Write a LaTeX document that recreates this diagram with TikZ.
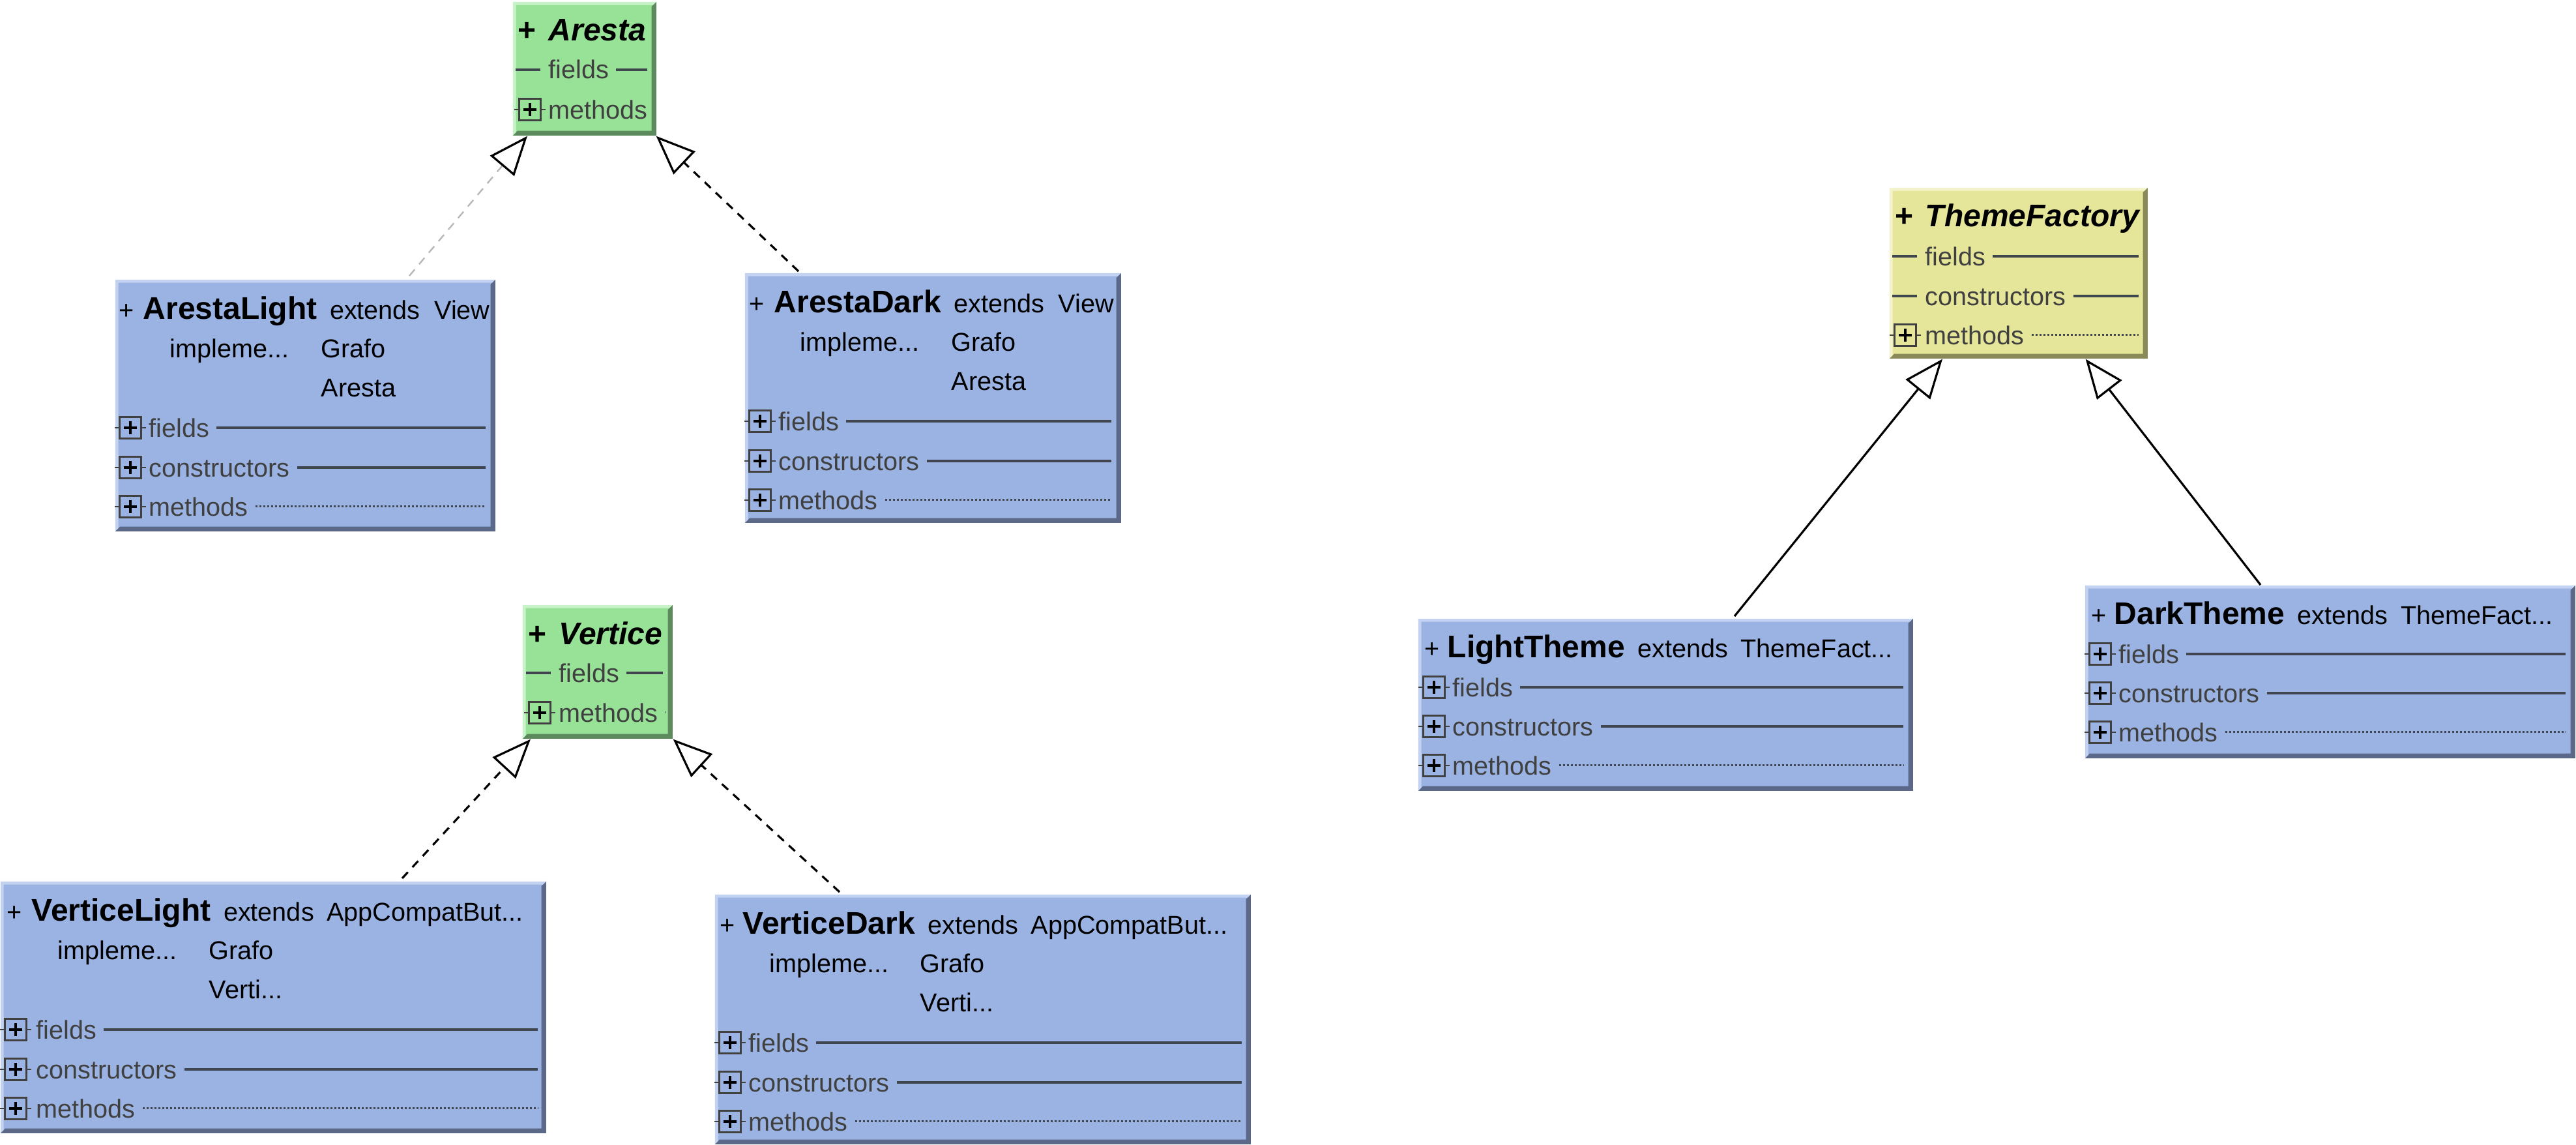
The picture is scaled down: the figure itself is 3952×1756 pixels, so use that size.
\documentclass[tikz,border=0pt]{standalone}
\usepackage{fontspec}
\setmainfont{Liberation Sans}
\usetikzlibrary{arrows.meta}
\definecolor{bfill}{HTML}{9AB3E3}
\definecolor{bdark}{HTML}{5B6888}
\definecolor{blight}{HTML}{C3D2F0}
\definecolor{gfill}{HTML}{98E298}
\definecolor{gdark}{HTML}{5C8A5C}
\definecolor{glight}{HTML}{C8F2C8}
\definecolor{yfill}{HTML}{E6E69A}
\definecolor{ydark}{HTML}{8A8A58}
\definecolor{ylight}{HTML}{F4F4CC}
\definecolor{sectxt}{HTML}{404040}
\definecolor{secrule}{HTML}{404650}
\definecolor{faint}{HTML}{B8B8B8}
\newcommand\ppb{path picture bounding box}
\tikzset{
  cbox/.style n args={3}{inner sep=0pt, fill=#1, path picture={
    \fill[#2] (\ppb.south west) -- (\ppb.south east) -- (\ppb.north east)
      -- ([shift={(-1.8pt,-1.8pt)}]\ppb.north east) -- ([shift={(-1.8pt,1.8pt)}]\ppb.south east)
      -- ([shift={(1.8pt,1.8pt)}]\ppb.south west) -- cycle;
    \fill[#3] (\ppb.south west) -- (\ppb.north west) -- (\ppb.north east)
      -- ([shift={(-1.2pt,-1.2pt)}]\ppb.north east) -- ([shift={(1.2pt,-1.2pt)}]\ppb.north west)
      -- ([shift={(1.2pt,1.2pt)}]\ppb.south west) -- cycle;
  }},
  bluebox/.style={cbox={bfill}{bdark}{blight}},
  greenbox/.style={cbox={gfill}{gdark}{glight}},
  yellowbox/.style={cbox={yfill}{ydark}{ylight}},
  txt/.style={inner sep=0pt, anchor=base west, font=\fontsize{9.9}{11}\selectfont},
  ttl/.style={inner sep=0pt, anchor=base west, font=\fontsize{12}{14}\selectfont\bfseries},
  ttli/.style={inner sep=0pt, anchor=base west, font=\fontsize{12}{14}\selectfont\bfseries\itshape},
  sec/.style={inner sep=0pt, anchor=base west, text=sectxt, font=\fontsize{9.9}{11}\selectfont},
  rule/.style={secrule, line width=0.9pt},
  drule/.style={secrule, line width=0.75pt, dash pattern=on 0.75pt off 0.75pt},
  norule/.style={draw=none},
  iconsq/.style={draw=sectxt, line width=0.8pt, minimum size=8.4pt, inner sep=0pt},
  dep/.style={line width=0.8pt, dash pattern=on 3.2pt off 2.6pt,
    -{Triangle[length=15pt, width=12pt, fill=white, color=black, line width=0.8pt]}},
  gen/.style={line width=0.8pt,
    -{Triangle[length=15pt, width=12pt, fill=white, color=black, line width=0.8pt]}},
}
\newcommand\classbox[6]{%
  \node[#6, anchor=north west, minimum width={(#4-#2)*0.25pt}, minimum height={(#5-#3)*0.25pt}] (#1) at (#2,#3) {};}
\newcommand\iconP[3]{%
  \node[iconsq] (#1) at (#2,#3) {};
  \draw[line width=0.8pt] ([xshift=-2.5pt]#1.center) -- ([xshift=2.5pt]#1.center)
    ([yshift=-2.5pt]#1.center) -- ([yshift=2.5pt]#1.center);
  \draw[sectxt, line width=0.5pt] ([xshift=-1.3pt]#1.west) -- (#1.west) (#1.east) -- ([xshift=1.3pt]#1.east);}
\newcommand\dashM[3]{\draw[rule] (#1,#3) -- (#2,#3);}
\newcommand\secL[6]{%
  \node[sec] (#1) at (#2,{#3+14}) {#4};
  \draw[#5] (#1.base east) ++(2.6pt,3.55pt) coordinate (#1-r) -- (#1-r -| #6,0);}
\begin{document}
\begin{tikzpicture}[x=0.25pt,y=-0.25pt]
\useasboundingbox (0,0) rectangle (3952,1756);
\fill[white] (0,0) rectangle (3952,1756);

% ---------- Aresta ----------
\classbox{aresta}{786}{2}{1006}{207}{greenbox}
\node[ttl] (ar-p) at (794,63) {+};
\node[ttli] (ar-n) at (841,63) {Aresta};
\dashM{791}{829}{107}
\secL{ar-f}{841}{107}{fields}{rule}{993}
\iconP{ar-mi}{813}{168}
\secL{ar-m}{841}{168}{methods}{norule}{993}

% ---------- ArestaLight ----------
\classbox{alight}{176}{428}{759}{814}{bluebox}
\node[txt] (al-p) at (182,489) {+};
\node[ttl] (al-n) at (219,489) {ArestaLight};
\node[txt] (al-e) at ([xshift=4.5pt]al-n.base east) {extends};
\node[txt] (al-s) at ([xshift=5pt]al-e.base east) {View};
\node[txt] (al-i) at (260,548) {impleme...};
\node[txt] (al-i1) at (492,548) {Grafo};
\node[txt] (al-i2) at (492,608) {Aresta};
\iconP{al-fi}{200}{656}
\secL{al-f}{228}{656}{fields}{rule}{745}
\iconP{al-ci}{200}{717}
\secL{al-c}{228}{717}{constructors}{rule}{745}
\iconP{al-mi}{200}{777}
\secL{al-m}{228}{777}{methods}{drule}{745}

% ---------- ArestaDark ----------
\classbox{adark}{1142}{418}{1719}{801}{bluebox}
\node[txt] (ad-p) at (1149,479) {+};
\node[ttl] (ad-n) at (1187,479) {ArestaDark};
\node[txt] (ad-e) at ([xshift=4.5pt]ad-n.base east) {extends};
\node[txt] (ad-s) at ([xshift=5pt]ad-e.base east) {View};
\node[txt] (ad-i) at (1227,538) {impleme...};
\node[txt] (ad-i1) at (1459,538) {Grafo};
\node[txt] (ad-i2) at (1459,598) {Aresta};
\iconP{ad-fi}{1166}{646}
\secL{ad-f}{1194}{646}{fields}{rule}{1705}
\iconP{ad-ci}{1166}{707}
\secL{ad-c}{1194}{707}{constructors}{rule}{1705}
\iconP{ad-mi}{1166}{767}
\secL{ad-m}{1194}{767}{methods}{drule}{1705}

% ---------- Vertice ----------
\classbox{vertice}{801}{927}{1031}{1132}{greenbox}
\node[ttl] (ve-p) at (810,988) {+};
\node[ttli] (ve-n) at (857,988) {Vertice};
\dashM{807}{845}{1032}
\secL{ve-f}{857}{1032}{fields}{rule}{1017}
\iconP{ve-mi}{828}{1093}
\secL{ve-m}{857}{1093}{methods}{drule}{1021}

% ---------- VerticeLight ----------
\classbox{vlight}{0}{1351}{837}{1737}{bluebox}
\node[txt] (vl-p) at (10,1412) {+};
\node[ttl] (vl-n) at (48,1412) {VerticeLight};
\node[txt] (vl-e) at ([xshift=4.5pt]vl-n.base east) {extends};
\node[txt] (vl-s) at ([xshift=4.5pt]vl-e.base east) {AppCompatBut...};
\node[txt] (vl-i) at (88,1471) {impleme...};
\node[txt] (vl-i1) at (320,1471) {Grafo};
\node[txt] (vl-i2) at (320,1531) {Verti...};
\iconP{vl-fi}{24}{1579}
\secL{vl-f}{55}{1579}{fields}{rule}{825}
\iconP{vl-ci}{24}{1640}
\secL{vl-c}{55}{1640}{constructors}{rule}{825}
\iconP{vl-mi}{24}{1700}
\secL{vl-m}{55}{1700}{methods}{drule}{825}

% ---------- VerticeDark ----------
\classbox{vdark}{1096}{1371}{1918}{1754}{bluebox}
\node[txt] (vd-p) at (1104,1432) {+};
\node[ttl] (vd-n) at (1139,1432) {VerticeDark};
\node[txt] (vd-e) at ([xshift=4.5pt]vd-n.base east) {extends};
\node[txt] (vd-s) at ([xshift=4.5pt]vd-e.base east) {AppCompatBut...};
\node[txt] (vd-i) at (1180,1491) {impleme...};
\node[txt] (vd-i1) at (1411,1491) {Grafo};
\node[txt] (vd-i2) at (1411,1551) {Verti...};
\iconP{vd-fi}{1120}{1599}
\secL{vd-f}{1148}{1599}{fields}{rule}{1905}
\iconP{vd-ci}{1120}{1660}
\secL{vd-c}{1148}{1660}{constructors}{rule}{1905}
\iconP{vd-mi}{1120}{1720}
\secL{vd-m}{1148}{1720}{methods}{drule}{1905}

% ---------- ThemeFactory ----------
\classbox{tfac}{2898}{287}{3294}{549}{yellowbox}
\node[ttl] (tf-p) at (2907,347) {+};
\node[ttli] (tf-n) at (2953,347) {ThemeFactory};
\dashM{2903}{2941}{393}
\secL{tf-f}{2953}{393}{fields}{rule}{3281}
\dashM{2903}{2941}{454}
\secL{tf-c}{2953}{454}{constructors}{rule}{3281}
\iconP{tf-mi}{2923}{514}
\secL{tf-m}{2953}{514}{methods}{drule}{3281}

% ---------- LightTheme ----------
\classbox{ltheme}{2175}{948}{2934}{1212}{bluebox}
\node[txt] (lt-p) at (2185,1008) {+};
\node[ttl] (lt-n) at (2220,1008) {LightTheme};
\node[txt] (lt-e) at ([xshift=4.5pt]lt-n.base east) {extends};
\node[txt] (lt-s) at ([xshift=4.5pt]lt-e.base east) {ThemeFact...};
\iconP{lt-fi}{2200}{1054}
\secL{lt-f}{2228}{1054}{fields}{rule}{2920}
\iconP{lt-ci}{2200}{1114}
\secL{lt-c}{2228}{1114}{constructors}{rule}{2920}
\iconP{lt-mi}{2200}{1174}
\secL{lt-m}{2228}{1174}{methods}{drule}{2920}

% ---------- DarkTheme ----------
\classbox{dtheme}{3198}{897}{3950}{1162}{bluebox}
\node[txt] (dt-p) at (3208,957) {+};
\node[ttl] (dt-n) at (3243,957) {DarkTheme};
\node[txt] (dt-e) at ([xshift=4.5pt]dt-n.base east) {extends};
\node[txt] (dt-s) at ([xshift=4.5pt]dt-e.base east) {ThemeFact...};
\iconP{dt-fi}{3222}{1003}
\secL{dt-f}{3250}{1003}{fields}{rule}{3936}
\iconP{dt-ci}{3222}{1063}
\secL{dt-c}{3250}{1063}{constructors}{rule}{3936}
\iconP{dt-mi}{3222}{1123}
\secL{dt-m}{3250}{1123}{methods}{drule}{3936}

% ---------- connectors ----------
\draw[dep, faint, line width=0.6pt] ([xshift=113pt,yshift=1.25pt]alight.north west) -- ([xshift=5.75pt]aresta.south west);
\draw[dep] ([xshift=20.75pt,yshift=0.5pt]adark.north west) -- ([xshift=-0.25pt]aresta.south east);
\draw[dep] ([xshift=154.25pt,yshift=1pt]vlight.north west) -- ([xshift=3.25pt]vertice.south west);
\draw[dep] ([xshift=48pt,yshift=0.75pt]vdark.north west) -- (vertice.south east);
\draw[gen] ([xshift=121.5pt,yshift=0.75pt]ltheme.north west) -- ([xshift=20.5pt]tfac.south west);
\draw[gen] ([xshift=67.5pt]dtheme.north west) -- ([xshift=-24pt]tfac.south east);
\end{tikzpicture}
\end{document}
